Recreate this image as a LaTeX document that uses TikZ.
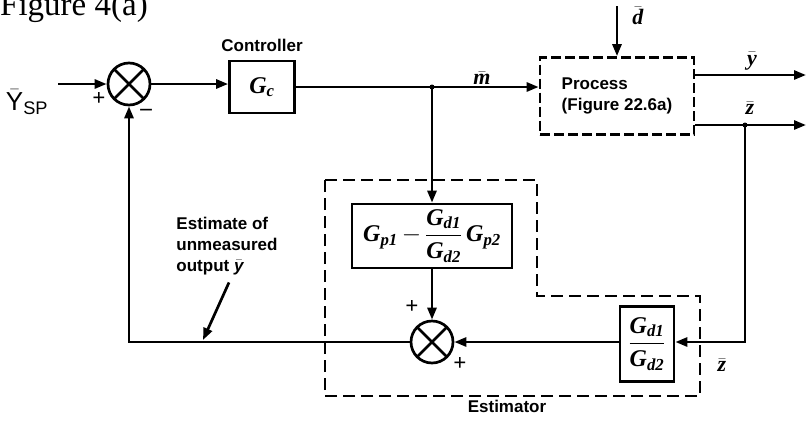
\documentclass[tikz,border=0pt]{standalone}
\usepackage{amsmath}
\usepackage{amssymb}
\usepackage{fontspec}
\setmainfont{Liberation Serif}
\setsansfont{Liberation Sans}
\usepackage{tikz}
\usetikzlibrary{arrows.meta, positioning, calc}

\newcommand{\bG}[1]{\textbf{\textit{G}}\textsubscript{\textbf{\textit{#1}}}}
\newcommand{\bv}[1]{$\bar{\text{\textbf{\textit{#1}}}}$}

\tikzset{
  >={Triangle[length=12pt,width=9pt]},
  sig/.style={line width=2.7pt},
  block/.style={draw, line width=2.7pt, inner sep=0pt, font=\fontsize{24}{26}\selectfont},
  sumj/.style={draw, circle, line width=2.7pt, minimum size=42pt, inner sep=0pt,
    path picture={\draw[line width=2.7pt]
      (path picture bounding box.north west) -- (path picture bounding box.south east)
      (path picture bounding box.north east) -- (path picture bounding box.south west);}},
  lbl/.style={font=\fontsize{17}{21}\sffamily\bfseries},
  sgn/.style={font=\fontsize{23}{23}\selectfont\bfseries, inner sep=0pt},
  var/.style={font=\fontsize{22}{22}\selectfont, inner sep=0pt},
  estbox/.style={line width=2.4pt, dash pattern=on 12pt off 6pt},
}

\begin{document}
\begin{tikzpicture}[x=1pt, y=-1pt]
  \useasboundingbox (0,0) rectangle (808,421);

  % Title
  \node[anchor=base west, font=\fontsize{33}{33}\selectfont, inner sep=0pt] (title) at (0,15) {Figure 4(a)};

  % Loop blocks
  \node[font=\fontsize{26}{26}\selectfont, inner sep=0pt] (ysp) at (27,102) {$\bar{\mathsf{Y}}_{\mathsf{SP}}$};
  \coordinate (in) at (58,84);
  \node[sumj] (sum1) at (129,84) {};
  \node[block, minimum width=65pt, minimum height=52pt] (gc) at (262,87) {\bG{c}};
  \node[lbl, above=4pt of gc] (ctrl) {Controller};
  \node[block, lbl, dash pattern=on 10pt off 4pt, minimum width=154pt, minimum height=77pt,
        align=left] (proc) at (617,96) {Process\\(Figure 22.6a)};

  % Estimator blocks
  \node[block, minimum width=160pt, minimum height=64pt] (gp) at (432,236)
    {\bG{p1}\,$-$\,$\dfrac{\text{\bG{d1}}}{\text{\bG{d2}}}$\,\bG{p2}};
  \node[sumj] (sum2) at (432,342) {};
  \node[block, minimum width=54pt, minimum height=75pt] (gd) at (647,344)
    {$\dfrac{\text{\bG{d1}}}{\text{\bG{d2}}}$};

  % Signs
  \node[sgn] (p1) at (99,99) {+};
  \node[sgn] (m1) at (146,112) {--};
  \node[sgn] (p2) at (412,307) {+};
  \node[sgn] (p3) at (460,364) {+};

  % Forward path
  \draw[sig,->] (in) -- (sum1.west);
  \draw[sig,->] (sum1.east) -- (sum1.east -| gc.west);
  \coordinate (jm) at (gp.north |- gc.east);
  \draw[sig] (gc.east) -- (jm);
  \draw[sig,->] (jm) -- (jm -| proc.west);
  \fill (jm) circle (2.5pt);
  \node[var] (mlab) at (482,78) {\bv{m}};

  % Disturbance and outputs
  \coordinate (dtop) at (proc.north |- 0,6);
  \draw[sig,->] (dtop) -- (proc.north);
  \node[var] (dlab) at (638,16) {\bv{d}};
  \coordinate (yout) at (806,75);
  \coordinate (zout) at (806,125);
  \draw[sig,->] (yout -| proc.east) -- (yout);
  \draw[sig,->] (zout -| proc.east) -- (zout);
  \node[var] (ylab) at (752,61) {\bv{y}};
  \node[var] (zlab) at (750,108) {\bv{z}};

  % Estimator paths
  \coordinate (jz) at (745,125);
  \fill (jz) circle (2.5pt);
  \draw[sig,->] (jz) |- (gd.east |- sum2.east);
  \node[var] (zlab2) at (722,365) {\bv{z}};
  \draw[sig,->] (jm) -- (gp.north);
  \draw[sig,->] (gp.south) -- (sum2.north);
  \draw[sig,->] (gd.west |- sum2.east) -- (sum2.east);

  % Feedback of the estimate
  \coordinate (fb) at (sum1 |- sum2.west);
  \draw[sig,->] (sum2.west) -- (fb) -- (sum1.south);
  \node[lbl, align=left] (estlbl) at (227,246) {Estimate of\\unmeasured\\output \bv{y}};
  \coordinate (fbtip) at (203,340);
  \draw[sig,->] ($(estlbl.south)+(2,4)$) -- (fbtip);

  % Estimator outline
  \draw[estbox] (325,180) -- (537,180) -- (537,296) -- (700,296) -- (700,396) -- (325,396) -- cycle;
  \node[lbl, below=1pt] (estname) at (507,396) {Estimator};
\end{tikzpicture}
\end{document}
